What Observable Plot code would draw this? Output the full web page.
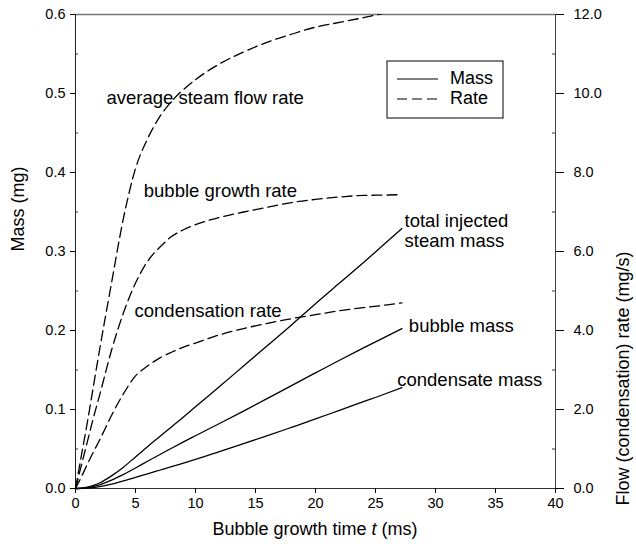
<!DOCTYPE html>
<html>
<head>
<meta charset="utf-8">
<script src="https://cdn.jsdelivr.net/npm/d3@7"></script>
<script src="https://cdn.jsdelivr.net/npm/@observablehq/plot@0.6"></script>
<style>
  html, body { margin: 0; padding: 0; background: #fff; }
  #chart svg { display: block; }
</style>
</head>
<body>
<div id="chart"></div>
<script>
// Bubble growth time (ms), shared by every series
const time = [0, 0.5, 1, 1.5, 2, 3, 4, 5, 6, 7, 8, 9, 10, 12, 14, 16, 18, 20, 22, 24, 26, 27.2];

// Masses (mg), left axis
const totalMass      = [0, 0.0004, 0.0017, 0.0039, 0.007, 0.016, 0.027, 0.04, 0.053, 0.0655, 0.078, 0.0905, 0.1035, 0.129, 0.155, 0.181, 0.207, 0.234, 0.26, 0.286, 0.313, 0.329];
const bubbleMass     = [0, 0.0003, 0.0012, 0.0027, 0.0047, 0.0105, 0.0178, 0.026, 0.0345, 0.0427, 0.051, 0.059, 0.0668, 0.0823, 0.098, 0.114, 0.1303, 0.1464, 0.1624, 0.178, 0.1932, 0.2024];
const condensateMass = [0, 0.0001, 0.0005, 0.0012, 0.0023, 0.0055, 0.0096, 0.0142, 0.0186, 0.0231, 0.0276, 0.0322, 0.0368, 0.0467, 0.0567, 0.0669, 0.0774, 0.088, 0.099, 0.1099, 0.1209, 0.1278];

// Rates (mg/s), right axis
const avgSteamRate     = [0, 0.85, 1.7, 2.6, 3.5, 5.2, 6.85, 8.1, 8.85, 9.4, 9.8, 10.1, 10.35, 10.75, 11.05, 11.3, 11.5, 11.68, 11.8, 11.92, 12.05, 12.12];
const bubbleGrowthRate = [0, 0.6, 1.2, 1.8, 2.35, 3.5, 4.45, 5.2, 5.75, 6.1, 6.38, 6.55, 6.68, 6.86, 7.0, 7.12, 7.24, 7.32, 7.38, 7.42, 7.43, 7.44];
const condensationRate = [0, 0.3, 0.62, 0.93, 1.22, 1.85, 2.4, 2.85, 3.1, 3.3, 3.45, 3.58, 3.68, 3.89, 4.05, 4.18, 4.3, 4.4, 4.5, 4.58, 4.65, 4.7];

// Tick values
const timeTicks = [0, 5, 10, 15, 20, 25, 30, 35, 40];
const massTicks = [0, 0.1, 0.2, 0.3, 0.4, 0.5, 0.6];
const massMinorTicks = [0.05, 0.15, 0.25, 0.35, 0.45, 0.55];
const rateTicks = [0, 2, 4, 6, 8, 10, 12];

const MASS_MAX = 0.6, RATE_MAX = 12;
// The rate axis shares the mass scale: 12 mg/s sits at 0.6 mg
const rateToMass = r => r * MASS_MAX / RATE_MAX;

const rows = (values, name, conv = v => v) =>
  time.map((t, i) => ({t, v: conv(values[i]), series: name}));

const massRows = [
  ...rows(totalMass, "total injected steam mass"),
  ...rows(bubbleMass, "bubble mass"),
  ...rows(condensateMass, "condensate mass")
];
const rateRows = [
  ...rows(avgSteamRate, "average steam flow rate", rateToMass),
  ...rows(bubbleGrowthRate, "bubble growth rate", rateToMass),
  ...rows(condensationRate, "condensation rate", rateToMass)
];

// In-plot annotations (time in ms, height on the mass scale)
const notes = [
  {t: 2.58, y: 0.4953, text: "average steam flow rate"},
  {t: 5.69, y: 0.3772, text: "bubble growth rate"},
  {t: 4.92, y: 0.2253, text: "condensation rate"},
  {t: 27.42, y: 0.3266, text: "total injected\nsteam mass"},
  {t: 27.78, y: 0.2063, text: "bubble mass"},
  {t: 26.81, y: 0.1376, text: "condensate mass"}
];

const FONT = "'Liberation Sans', Arial, Helvetica, sans-serif";
const W = 636, H = 547;
const M = {top: 14, right: 81, bottom: 59, left: 75};

const chart = Plot.plot({
  width: W,
  height: H,
  marginTop: M.top,
  marginRight: M.right,
  marginBottom: M.bottom,
  marginLeft: M.left,
  x: {domain: [0, 40]},
  y: {domain: [0, MASS_MAX]},
  style: {fontFamily: FONT, fontSize: "14.5px", color: "#000", background: "#fff", overflow: "visible"},
  marks: [
    // frame: grey top edge, dark axis lines
    Plot.ruleY([MASS_MAX], {stroke: "#777", strokeWidth: 1.5}),
    Plot.ruleX([0], {stroke: "#222", strokeWidth: 1}),
    Plot.ruleX([40], {stroke: "#444", strokeWidth: 1}),
    Plot.ruleY([0], {stroke: "#333", strokeWidth: 1}),

    // inward minor ticks on both vertical axes
    Plot.tickY(massMinorTicks, {y: d => d, stroke: "#333", insetRight: W - M.left - M.right - 3}),
    Plot.tickY(massMinorTicks, {y: d => d, stroke: "#333", insetLeft: W - M.left - M.right - 3}),

    Plot.axisX({ticks: timeTicks, tickSize: 5, tickPadding: 4, fontSize: 14.5, label: null, tickFormat: d => String(d)}),
    Plot.axisY({anchor: "left", ticks: massTicks, tickSize: 5, tickPadding: 5, fontSize: 14.5, label: null, tickFormat: d3.format(".1f")}),
    Plot.axisY({anchor: "right", ticks: rateTicks.map(rateToMass), tickSize: 8, tickPadding: 10, fontSize: 14.5, label: null,
      tickFormat: d => d3.format(".1f")(d * RATE_MAX / MASS_MAX)}),

    // axis titles
    Plot.text(["Mass (mg)"], {frameAnchor: "left", rotate: -90, dx: -57, fontSize: 18}),
    Plot.text(["Flow (condensation) rate (mg/s)"], {frameAnchor: "right", rotate: -90, dx: 68, fontSize: 18}),

    // mass curves (solid)
    Plot.line(massRows, {x: "t", y: "v", z: "series", stroke: "#000", strokeWidth: 1.3, curve: "monotone-x"}),
    // rate curves (dashed), clipped at the top of the frame
    Plot.line(rateRows, {x: "t", y: "v", z: "series", stroke: "#000", strokeWidth: 1.3, strokeDasharray: "10,5", curve: "monotone-x", clip: true}),

    // annotations
    Plot.text(notes, {x: "t", y: "y", text: "text", textAnchor: "start", lineAnchor: "middle", lineHeight: 1.1, fontSize: 18.5, fill: "#000"})
  ]
});

document.getElementById("chart").appendChild(chart);

const svg = d3.select(chart);

// x-axis title with italic variable
const xTitle = svg.append("text")
  .attr("x", (M.left + W - M.right) / 2)
  .attr("y", H - 17)
  .attr("text-anchor", "middle")
  .attr("dominant-baseline", "middle")
  .attr("font-family", FONT)
  .attr("font-size", 18)
  .attr("fill", "#000");
xTitle.append("tspan").text("Bubble growth time ");
xTitle.append("tspan").attr("font-style", "italic").text("t");
xTitle.append("tspan").text(" (ms)");

// legend box
const legend = svg.append("g").attr("transform", "translate(387,61)")
  .attr("font-family", FONT).attr("font-size", 18).attr("text-anchor", "start");
legend.append("rect").attr("width", 116).attr("height", 57)
  .attr("fill", "#fff").attr("stroke", "#000").attr("stroke-width", 1);
const legendItems = [{label: "Mass", dash: null}, {label: "Rate", dash: "10,5"}];
legendItems.forEach((d, i) => {
  const y = 18 + i * 20;
  legend.append("line").attr("x1", 10).attr("x2", 51).attr("y1", y).attr("y2", y)
    .attr("stroke", "#000").attr("stroke-width", 1.2).attr("stroke-dasharray", d.dash);
  legend.append("text").attr("x", 63).attr("y", y).attr("dominant-baseline", "middle")
    .attr("text-anchor", "start").attr("fill", "#000").text(d.label);
});
</script>
</body>
</html>
